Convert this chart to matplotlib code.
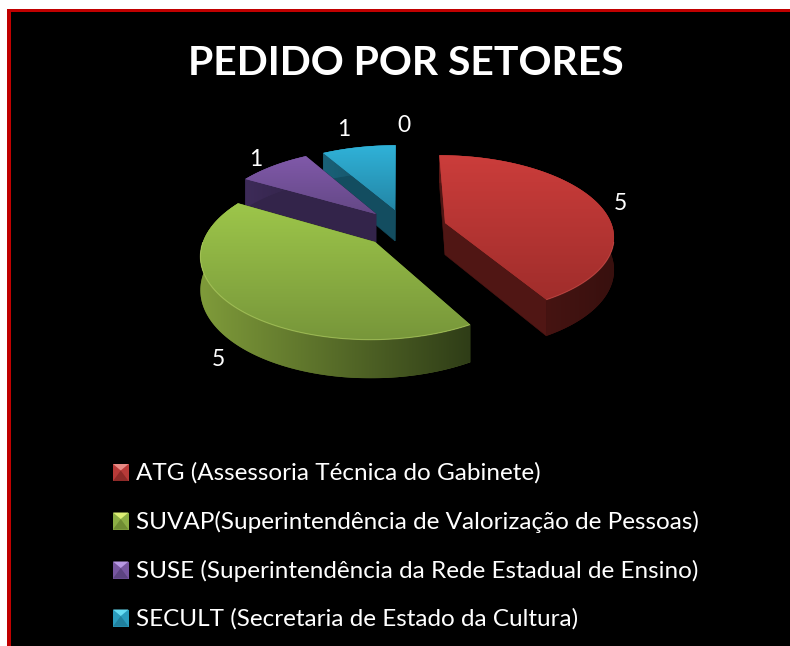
import numpy as np
import matplotlib
matplotlib.use("Agg")
import matplotlib.pyplot as plt
from matplotlib.colors import to_rgb
from matplotlib.patches import Polygon, Rectangle

title = "PEDIDO POR SETORES"
categories = ["ATG (Assessoria Técnica do Gabinete)",
              "SUVAP(Superintendência de Valorização de Pessoas)",
              "SUSE (Superintendência da Rede Estadual de Ensino)",
              "SECULT (Secretaria de Estado da Cultura)"]
values = [5, 5, 1, 1, 0]

# styling of each slice
top_colors = [("#CB3D3B", "#A02D2B"), ("#9DC64A", "#77963A"),
              ("#8059A9", "#644886"), ("#30B2D8", "#2386A6")]
cut_colors = ["#501614", "#33431A", "#33244A", "#134D60"]
arc_colors = [("#5C1A18", "#38100E"), ("#7F9B3A", "#2F3D17"),
              ("#3D2B58", "#33244A"), ("#1A6178", "#134D60")]
rim_colors = ["#D85A55", "#C4E070", None, None]
apex_px = [(445, 223), (375, 242), (376, 214), (395, 210)]
label_px = [(620, 204), (218, 360), (256, 159), (344, 129), (404, 125)]
legend_dark = ["#8E2A28", "#6F8C33", "#5C4480", "#20809E"]
legend_mid = ["#B83A38", "#8CAE44", "#7756A0", "#2A9CBE"]
legend_light = ["#E88A84", "#DCEE74", "#B898E4", "#66DCF4"]

OX, OY, RX, KR, P, DEPTH = 400.0, 245.0, 173.0, 84.0, 0.15, 33.0


def project(x, t, z=0.0):
    s = 1.0 / (1.0 - P * t)
    return OX + x * s, OY + (KR * t + z) * s


def unproject(px, py):
    sx, sy = px - OX, py - OY
    t = sy / (KR + P * sy)
    return sx * (1 - P * t), t


def gradient_fill(ax, pts, c1, c2, horizontal, z):
    pts = np.asarray(pts)
    g = np.linspace(0, 1, 256)
    g = g[None, :, None] if horizontal else g[:, None, None]
    c1, c2 = np.array(to_rgb(c1)), np.array(to_rgb(c2))
    img = c1[None, None, :] * (1 - g) + c2[None, None, :] * g
    poly = Polygon(pts, fc=tuple(0.5 * (c1 + c2)), ec="none", zorder=z)
    ax.add_patch(poly)
    im = ax.imshow(img, extent=(pts[:, 0].min(), pts[:, 0].max(),
                                pts[:, 1].max(), pts[:, 1].min()),
                   aspect="auto", zorder=z + 0.001, interpolation="bilinear")
    im.set_clip_path(poly)


fig = plt.figure(figsize=(7.9, 6.46), dpi=100, facecolor="white")
ax = fig.add_axes([0, 0, 1, 1])
ax.axis("off")
ax.add_patch(Rectangle((7, 9), 790, 646, fc="#C00000", ec="none", zorder=0))
ax.add_patch(Rectangle((11, 12), 790, 646, fc="black", ec="none", zorder=0.1))

angles = np.cumsum([0] + values) / sum(values) * 2 * np.pi
z = 1.0
for i in [3, 2, 1, 0]:
    a0, a1 = angles[i], angles[i + 1]
    x0, t0 = unproject(*apex_px[i])
    th = np.linspace(a0, a1, 121)
    X = x0 + RX * np.sin(th)
    T = t0 - np.cos(th)
    top = np.array([project(a, b) for a, b in zip(X, T)])
    low = np.array([project(a, b, DEPTH) for a, b in zip(X, T)])
    apex_t = project(x0, t0)
    apex_b = project(x0, t0, DEPTH)

    # cut faces
    for e in (0, -1):
        ax.add_patch(Polygon([apex_t, top[e], low[e], apex_b], fc=cut_colors[i],
                             ec=cut_colors[i], lw=0.4, zorder=z))
    z += 0.01
    # outer wall
    front = th >= np.pi * 0.5 if i == 0 else np.ones_like(th, bool)
    wall = np.vstack([top, low[::-1]])
    gradient_fill(ax, wall, arc_colors[i][0], arc_colors[i][1], True, z)
    z += 0.01
    # top face
    gradient_fill(ax, np.vstack([[apex_t], top]), top_colors[i][0],
                  top_colors[i][1], False, z)
    z += 0.01
    # highlight on the front rim
    if rim_colors[i]:
        vis = T > -0.05
        ax.plot(top[vis, 0], top[vis, 1], color=rim_colors[i], lw=0.8,
                alpha=0.5, zorder=z, solid_capstyle="butt")
    z += 0.01

ax.set_xlim(0, 790)
ax.set_ylim(646, 0)

ax.text(405.5, 63.5, title, color="white", fontsize=29.4, fontweight="bold",
        family="Lato", ha="center", va="center", zorder=5)

for v, (lx, ly) in zip(values, label_px):
    ax.text(lx, ly, str(v), color="white", fontsize=16.5, family="Lato",
            ha="center", va="center", zorder=5)

rows = [472.5, 521, 570, 618]
for i, (name, y) in enumerate(zip(categories, rows)):
    l, r, tp, b = 113, 128.5, y - 8.5, y + 8.5
    cx, cy = (l + r) / 2, y - 2
    ax.add_patch(Rectangle((l, tp), r - l, b - tp, fc=legend_mid[i], ec="none", zorder=5))
    ax.add_patch(Polygon([(l, tp), (r, tp), (cx, cy)], fc=legend_light[i], ec="none", zorder=5.1))
    ax.add_patch(Polygon([(l, b), (r, b), (cx, cy)], fc=legend_dark[i], ec="none", zorder=5.1))
    ax.text(136, y + 0.5, name, color="white", fontsize=17.5, family="Lato",
            ha="left", va="center", zorder=5)

fig.savefig("out.png", dpi=100, facecolor="white")
